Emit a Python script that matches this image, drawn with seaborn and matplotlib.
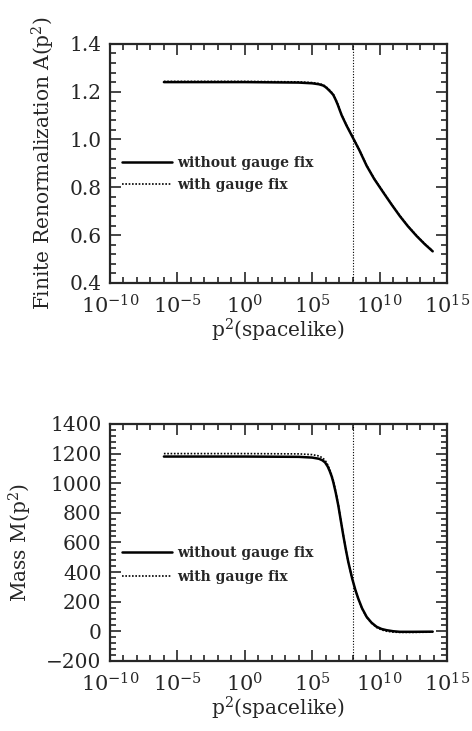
import numpy as np
import pandas as pd
import matplotlib
matplotlib.use('Agg')
import matplotlib.pyplot as plt
import matplotlib.ticker as mticker
import matplotlib.transforms as mtransforms
import seaborn as sns

# log10(p^2) sample points
LOGP_A = [-6.0, 0.0, 4.0, 5.0, 5.5, 5.8, 5.95, 6.1, 6.3, 6.45, 6.57, 6.75, 6.9, 7.05, 7.19,
          7.55, 7.93, 8.5, 9.04, 9.6, 10.28, 10.9, 11.51, 12.1, 12.75, 13.35, 13.94]
A_NOFIX = [1.240, 1.240, 1.238, 1.235, 1.231, 1.226, 1.221, 1.214, 1.203, 1.194, 1.186,
           1.165, 1.145, 1.122, 1.101, 1.058, 1.017, 0.955, 0.890, 0.835, 0.778, 0.727,
           0.679, 0.637, 0.596, 0.562, 0.532]
A_FIX = [1.243, 1.243, 1.241, 1.238, 1.234, 1.229, 1.224, 1.217, 1.206, 1.197, 1.189,
         1.168, 1.148, 1.124, 1.103, 1.060, 1.019, 0.957, 0.892, 0.837, 0.780, 0.729,
         0.681, 0.639, 0.598, 0.564, 0.534]

LOGP_M = [-6.0, 0.0, 4.0, 5.0, 5.5, 5.75, 5.95, 6.15, 6.3, 6.45, 6.57, 6.75, 6.94, 7.1,
          7.31, 7.5, 7.68, 7.97, 8.2, 8.42, 8.7, 9.04, 9.4, 9.78, 10.15, 10.52, 11.0,
          11.5, 12.5, 13.94]
M_NOFIX = [1180, 1180, 1178, 1173, 1165, 1155, 1141, 1113, 1082, 1045, 1006, 935, 848, 760,
           646, 550, 467, 355, 280, 220, 155, 97, 58, 30, 15, 7, 0, -4, -4, -3]
M_FIX = [1200, 1200, 1198, 1193, 1184, 1172, 1156, 1125, 1092, 1055, 1018, 943, 855, 764,
         650, 552, 468, 354, 278, 218, 152, 94, 55, 25, 9, 0, -6, -8, -8, -6]

P2_CUT = 1e8
X_MAJOR = [1e-10, 1e-5, 1e0, 1e5, 1e10, 1e15]
LABELS = ["without gauge fix", "with gauge fix"]

sns.set_style("ticks")
plt.rcParams['font.family'] = ['DejaVu Serif']
plt.rcParams['mathtext.fontset'] = 'dejavuserif'

fig = plt.figure(figsize=(4.72, 7.31), dpi=100)
ax1 = fig.add_axes([0.233, 0.613, 0.714, 0.327])
ax2 = fig.add_axes([0.233, 0.096, 0.714, 0.324])


def draw(ax, logp, y_nofix, y_fix):
    df = pd.DataFrame({"p2": 10.0 ** np.array(logp), "nofix": y_nofix, "fix": y_fix})
    sns.lineplot(data=df, x="p2", y="nofix", ax=ax, color="black", lw=1.8,
                 label=LABELS[0])
    sns.lineplot(data=df, x="p2", y="fix", ax=ax, color="black", lw=1.2,
                 ls=(0, (1, 1)), label=LABELS[1])
    ax.axvline(P2_CUT, color="black", lw=0.8, ls=(0, (1, 1.5)))
    ax.set_xscale("log")
    ax.set_xlim(1e-10, 1e15)
    ax.xaxis.set_major_locator(mticker.FixedLocator(X_MAJOR))
    ax.xaxis.set_minor_locator(mticker.FixedLocator([10.0 ** k for k in range(-10, 16)]))
    ax.xaxis.set_major_formatter(mticker.LogFormatterMathtext())
    ax.xaxis.set_minor_formatter(mticker.NullFormatter())
    ax.tick_params(which="both", direction="in", top=True, right=True, width=1.2)
    ax.tick_params(axis="x", labelsize=15, pad=8)
    ax.tick_params(axis="y", labelsize=14.5, pad=6)
    ax.tick_params(which="major", length=8)
    ax.tick_params(which="minor", length=4)
    for s in ax.spines.values():
        s.set_linewidth(1.6)
    ax.set_xlabel(r"p$^2$(spacelike)", fontsize=14.5, labelpad=0)


draw(ax1, LOGP_A, A_NOFIX, A_FIX)
ax1.set_ylim(0.4, 1.4)
ax1.yaxis.set_major_locator(mticker.MultipleLocator(0.2))
ax1.yaxis.set_minor_locator(mticker.MultipleLocator(0.04))
ax1.yaxis.set_major_formatter(mticker.FormatStrFormatter("%.1f"))
ax1.set_ylabel(r"Finite Renormalization A(p$^2$)", fontsize=14.5, labelpad=9)
ax1.legend(loc="center left", bbox_to_anchor=(0.0, 0.455), frameon=False,
           handlelength=3.6, handletextpad=0.35, labelspacing=0.55,
           prop={"family": "DejaVu Serif", "weight": "bold", "size": 10})

draw(ax2, LOGP_M, M_NOFIX, M_FIX)
ax2.set_ylim(-200, 1400)
ax2.yaxis.set_major_locator(mticker.MultipleLocator(200))
ax2.yaxis.set_minor_locator(mticker.MultipleLocator(40))
ax2.set_ylabel(r"Mass M(p$^2$)", fontsize=14.5, labelpad=9)
ax2.legend(loc="center left", bbox_to_anchor=(0.0, 0.405), frameon=False,
           handlelength=3.6, handletextpad=0.35, labelspacing=0.7,
           prop={"family": "DejaVu Serif", "weight": "bold", "size": 10})

# lift the lowest y tick label a little, as in the original
fig.canvas.draw()
lift = mtransforms.ScaledTranslation(0, 4 / 100, fig.dpi_scale_trans)
for ax in (ax1, ax2):
    lab = ax.get_yticklabels()[0]
    lab.set_transform(lab.get_transform() + lift)

fig.savefig("out.png", dpi=100)
plt.close(fig)
